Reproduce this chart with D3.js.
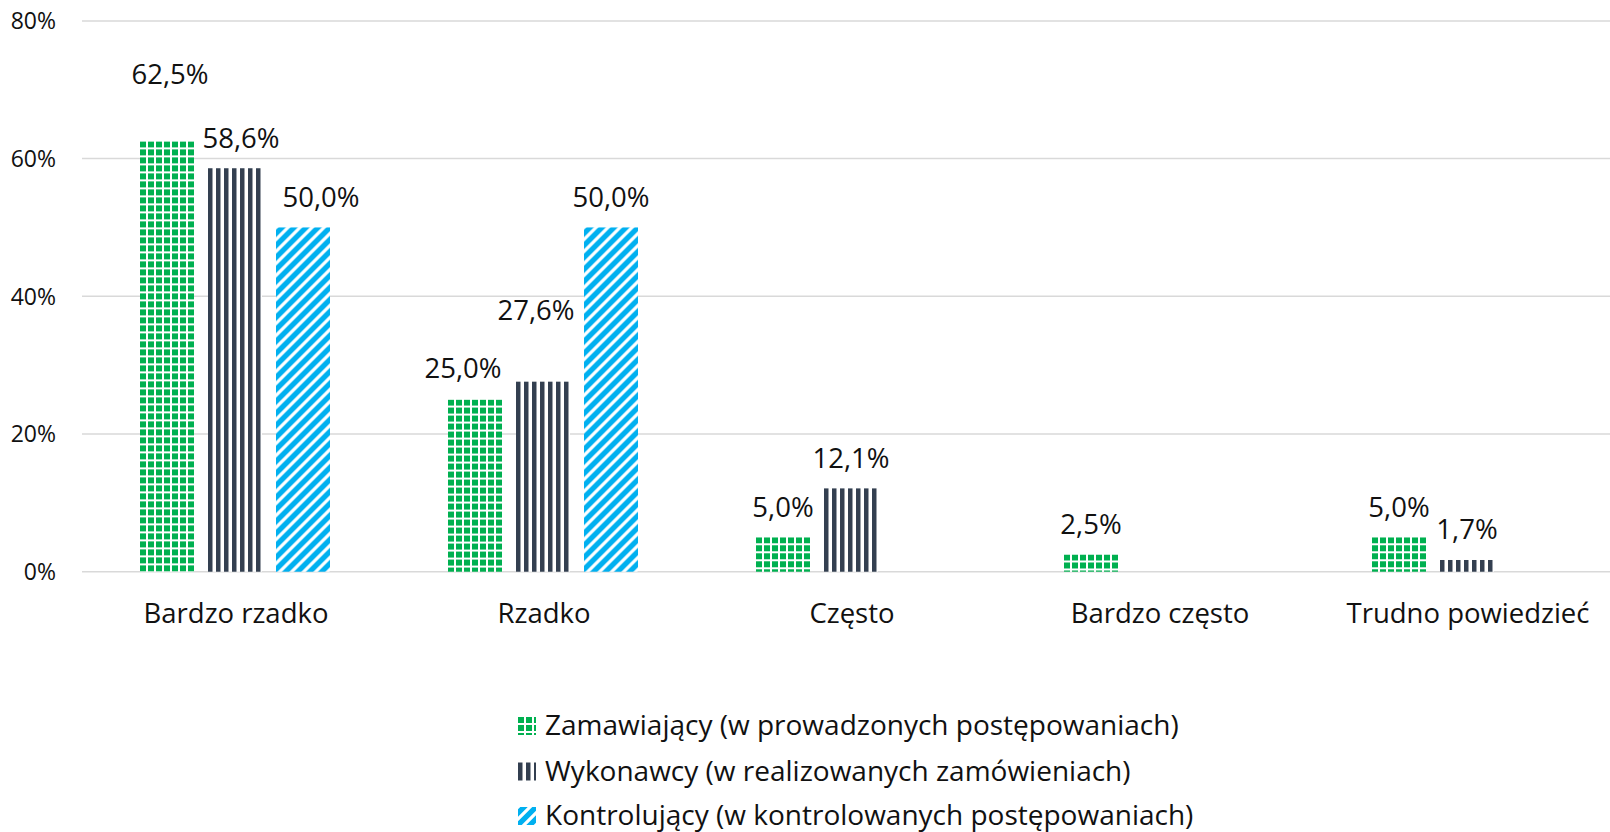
<!DOCTYPE html>
<html>
<head>
<meta charset="utf-8">
<script src="https://cdn.jsdelivr.net/npm/d3@7"></script>
<style>
  html, body { margin: 0; padding: 0; background: #fff; }
  svg { display: block; font-family: "Open Sans", "Lato", sans-serif; }
</style>
</head>
<body>
<svg id="chart" width="1610" height="832"></svg>
<script>
// ---- data ----
const categories = ["Bardzo rzadko", "Rzadko", "Często", "Bardzo często", "Trudno powiedzieć"];
const seriesNames = [
  "Zamawiający (w prowadzonych postępowaniach)",
  "Wykonawcy (w realizowanych zamówieniach)",
  "Kontrolujący (w kontrolowanych postępowaniach)"
];
const zamawiajacy = [62.5, 25.0, 5.0, 2.5, 5.0];
const wykonawcy = [58.6, 27.6, 12.1, null, 1.7];
const kontrolujacy = [50.0, 50.0, null, null, null];
const yTicks = [0, 20, 40, 60, 80];
const yTickLabels = ["0%", "20%", "40%", "60%", "80%"];

// manual label nudges (pixels) as placed in the original, [series][category]
const labelNudges = [
  [[3, -37], [-12, -1], [0, 0], [0, 0], [0, 0]],
  [[6, 0], [-7, -41], [0, 0], [0, 0], [0, 0]],
  [[18, 0], [0, 0], [0, 0], [0, 0], [0, 0]]
];

const seriesValues = [zamawiajacy, wykonawcy, kontrolujacy];
const fills = ["url(#pGreen)", "url(#pDark)", "url(#pBlue)"];

const svg = d3.select("#chart");

// ---- patterns ----
const defs = svg.append("defs");
const pg = defs.append("pattern").attr("id", "pGreen").attr("patternUnits", "userSpaceOnUse")
  .attr("width", 8).attr("height", 8);
pg.append("rect").attr("width", 8).attr("height", 8).attr("fill", "#ffffff");
pg.append("rect").attr("x", 0).attr("y", 0).attr("width", 6).attr("height", 6).attr("fill", "#00B050");

const pd = defs.append("pattern").attr("id", "pDark").attr("patternUnits", "userSpaceOnUse")
  .attr("width", 8).attr("height", 8);
pd.append("rect").attr("width", 8).attr("height", 8).attr("fill", "#ffffff");
pd.append("rect").attr("x", 0).attr("y", 0).attr("width", 4.5).attr("height", 8).attr("fill", "#333F50");

const pb = defs.append("pattern").attr("id", "pBlue").attr("patternUnits", "userSpaceOnUse")
  .attr("width", 12).attr("height", 12);
pb.append("rect").attr("width", 12).attr("height", 12).attr("fill", "#00B0F0");
pb.append("path").attr("d", "M-3,3 L3,-3 M0,12 L12,0 M9,15 L15,9")
  .attr("stroke", "#ffffff").attr("stroke-width", 3.2);

// ---- scales ----
const x0 = d3.scaleBand().domain(categories).range([82, 1622]).paddingInner(0).paddingOuter(0);
const x1 = d3.scaleBand().domain(d3.range(seriesNames.length)).range([58, 248]).paddingInner(0.206);
const y = d3.scaleLinear().domain([0, 80]).range([571.7, 20.9]);

// ---- gridlines ----
svg.append("g").selectAll("line").data(yTicks).join("line")
  .attr("x1", 82).attr("x2", 1622)
  .attr("y1", d => y(d)).attr("y2", d => y(d))
  .attr("stroke", "#D9D9D9").attr("stroke-width", 1.5);

// ---- y tick labels ----
svg.append("g").selectAll("text").data(yTicks).join("text")
  .attr("x", 56).attr("y", d => y(d)).attr("dy", "0.36em")
  .attr("text-anchor", "end").attr("font-size", 23).attr("fill", "#111")
  .text((d, i) => yTickLabels[i]);

// ---- bars ----
const fmt = v => d3.format(".1f")(v).replace(".", ",") + "%";
const barsG = svg.append("g");
seriesValues.forEach((vals, s) => {
  categories.forEach((c, ci) => {
    const v = vals[ci];
    if (v == null) return;
    const bx = x0(c) + x1(s);
    const by = y(v);
    barsG.append("g").attr("transform", `translate(${bx},${by})`)
      .append("rect").attr("x", 0).attr("y", 0)
      .attr("width", x1.bandwidth()).attr("height", y(0) - by)
      .attr("fill", fills[s]);
  });
});

// ---- data labels ----
const labG = svg.append("g");
seriesValues.forEach((vals, s) => {
  categories.forEach((c, ci) => {
    const v = vals[ci];
    if (v == null) return;
    const nd = labelNudges[s][ci];
    labG.append("text")
      .attr("x", x0(c) + x1(s) + x1.bandwidth() / 2 + nd[0])
      .attr("y", y(v) - 20.5 + nd[1])
      .attr("text-anchor", "middle").attr("font-size", 27.5).attr("fill", "#111")
      .text(fmt(v));
  });
});

// ---- category labels ----
svg.append("g").selectAll("text").data(categories).join("text")
  .attr("x", d => x0(d) + x0.bandwidth() / 2).attr("y", 622.5)
  .attr("text-anchor", "middle").attr("font-size", 27.5).attr("fill", "#111")
  .text(d => d);

// ---- legend ----
const legendBaselines = [735, 780.5, 825];
const leg = svg.append("g");
seriesNames.forEach((name, i) => {
  leg.append("g").attr("transform", `translate(518,${legendBaselines[i] - 18})`)
    .append("rect").attr("width", 18).attr("height", 18).attr("fill", fills[i]);
  leg.append("text").attr("x", 545).attr("y", legendBaselines[i])
    .attr("font-size", 28).attr("fill", "#111").text(name);
});
</script>
</body>
</html>
